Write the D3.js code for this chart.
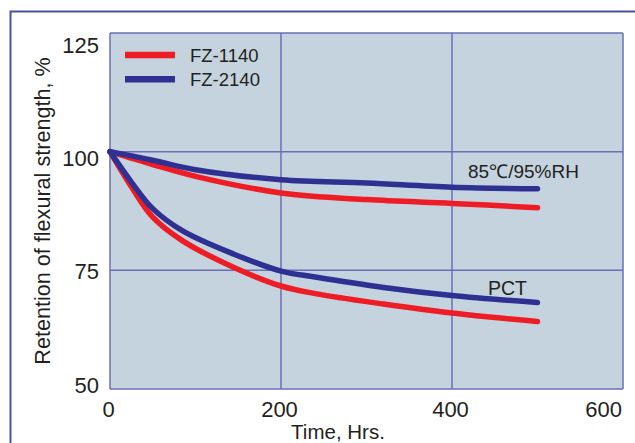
<!DOCTYPE html>
<html><head><meta charset="utf-8">
<script src="https://cdn.jsdelivr.net/npm/d3@7"></script>
<style>body{margin:0;background:#fff}svg{display:block;font-family:"Liberation Sans",Arial,sans-serif}</style>
</head><body>
<svg id="c" width="635" height="443"></svg>
<script>
// Data
const xTicks = [0, 200, 400, 600];
const yTicks = [50, 75, 100, 125];
const hoursHumid = [0, 50, 100, 200, 300, 400, 500];
const fz1140Humid = [100, 97.3, 94.8, 91.3, 89.9, 89.1, 88.2];
const fz2140Humid = [100, 98.2, 96.2, 94.1, 93.4, 92.5, 92.2];
const hoursPct = [0, 25, 50, 85, 145, 200, 240, 320, 400, 500];
const fz1140Pct = [100, 92.6, 86.2, 81.2, 75.6, 71.7, 70.1, 67.9, 66.0, 64.2];
const fz2140Pct = [100, 93.6, 88.0, 83.3, 78.4, 74.85, 73.6, 71.4, 69.7, 68.2];
const seriesNames = ["FZ-1140", "FZ-2140"];
const seriesColors = ["#ee1c25", "#2e3192"];

const svg = d3.select("#c");
const L = 110, R = 623, T = 33, B = 389;
const x = d3.scaleLinear().domain([0, 600]).range([L, R]);
const y = d3.scaleLinear().domain([50, 125]).range([B, T]);
const yLab = d3.scaleLinear().domain([50, 125]).range([385, 44.7]);

// outer frame
svg.append("path").attr("d", "M10.5,443 V11.5 H640").attr("fill", "none")
  .attr("stroke", "#4a4e9f").attr("stroke-width", 2);

// plot background
svg.append("rect").attr("x", L).attr("y", T).attr("width", R - L).attr("height", B - T)
  .attr("fill", "#c5d3df");

const gridColor = "#6a6fb4";
svg.append("g").selectAll("line").data(xTicks).join("line")
  .attr("x1", d => x(d)).attr("x2", d => x(d)).attr("y1", T).attr("y2", B)
  .attr("stroke", gridColor).attr("stroke-width", 1.5);
svg.append("g").selectAll("line").data(yTicks).join("line")
  .attr("x1", L).attr("x2", R).attr("y1", d => y(d)).attr("y2", d => y(d))
  .attr("stroke", gridColor).attr("stroke-width", 1.5);

// tick labels
svg.append("g").selectAll("text").data(yTicks).join("text")
  .attr("x", 99).attr("y", d => yLab(d)).attr("dy", "0.36em")
  .attr("text-anchor", "end").attr("font-size", 22).attr("fill", "#231f20")
  .text(d => d);
svg.append("g").selectAll("text").data(xTicks).join("text")
  .attr("x", (d, i) => i === xTicks.length - 1 ? x(d) - 1 : x(d) - 1.5)
  .attr("y", 417).attr("text-anchor", (d, i) => i === xTicks.length - 1 ? "end" : "middle")
  .attr("font-size", 22).attr("fill", "#231f20").text(d => d);

// axis titles
svg.append("text").attr("transform", "translate(50,211) rotate(-90)")
  .attr("text-anchor", "middle").attr("font-size", 21.6).attr("fill", "#231f20")
  .text("Retention of flexural strength, %");
svg.append("text").attr("x", 338).attr("y", 438.5).attr("text-anchor", "middle")
  .attr("font-size", 20.5).attr("fill", "#231f20").text("Time, Hrs.");

// lines
const line = d3.line().x(d => x(d[0])).y(d => y(d[1])).curve(d3.curveCatmullRom.alpha(0.5));
const curves = [
  [hoursHumid, fz1140Humid, 0], [hoursPct, fz1140Pct, 0],
  [hoursHumid, fz2140Humid, 1], [hoursPct, fz2140Pct, 1]
];
curves.forEach(([hs, vs, k]) => {
  svg.append("path").datum(hs.map((h, i) => [h, vs[i]]))
    .attr("d", line).attr("fill", "none").attr("stroke", seriesColors[k])
    .attr("stroke-width", 5.5).attr("stroke-linecap", "round").attr("stroke-linejoin", "round");
});

// legend
const lg = svg.append("g");
seriesNames.forEach((n, i) => {
  const yy = 55 + i * 24.3;
  lg.append("line").attr("x1", 125).attr("x2", 175).attr("y1", yy).attr("y2", yy)
    .attr("stroke", seriesColors[i]).attr("stroke-width", 6.5);
  lg.append("text").attr("x", 190).attr("y", yy).attr("dy", "0.36em")
    .attr("font-size", 18.5).attr("fill", "#231f20").text(n);
});

// annotations
svg.append("text").attr("x", 468).attr("y", 178).attr("font-size", 19)
  .attr("fill", "#231f20").text("85℃/95%RH");
svg.append("text").attr("x", 488).attr("y", 294.5).attr("font-size", 19.5)
  .attr("fill", "#231f20").text("PCT");
</script>
</body></html>
